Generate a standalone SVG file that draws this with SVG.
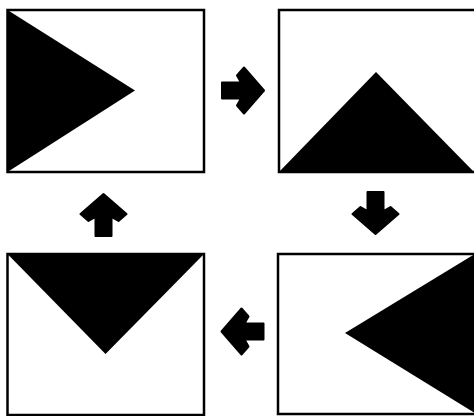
<svg xmlns="http://www.w3.org/2000/svg" xmlns:xlink="http://www.w3.org/1999/xlink" width="474" height="416" viewBox="0 0 474 416">
<style>
.frame{fill:#fff;stroke:#000;stroke-width:2.5}
.tri{fill:#000}
.arr{fill:#000;stroke:#000;stroke-width:2;stroke-linejoin:round}
</style>
<defs>
<path id="arrow" d="M-21,-8 L-2,-8 L-6,-15 L1,-23 L21,0 L1,23 L-6,15 L-2,8 L-21,8 Z"/>
</defs>
<rect x="0" y="0" width="474" height="416" fill="#fff"/>
<g id="node1">
<rect class="frame" x="7.5" y="10" width="196.5" height="162"/>
<polygon class="tri" points="7.5,10 7.5,172 135,90.5"/>
</g>
<g id="node2">
<rect class="frame" x="279" y="10" width="197" height="162"/>
<polygon class="tri" points="279,172 376,72 474,172"/>
</g>
<g id="node3">
<rect class="frame" x="7.5" y="254" width="196.5" height="161"/>
<polygon class="tri" points="7.5,254 204,254 105.5,354"/>
</g>
<g id="node4">
<rect class="frame" x="278" y="254" width="198" height="160"/>
<polygon class="tri" points="475,254 345,333 475,413"/>
</g>
<g id="connectors">
<use class="arr" xlink:href="#arrow" href="#arrow" transform="translate(243,90.5)"/>
<use class="arr" xlink:href="#arrow" href="#arrow" transform="translate(375.5,213) rotate(90)"/>
<use class="arr" xlink:href="#arrow" href="#arrow" transform="translate(242.5,331.5) rotate(180)"/>
<use class="arr" xlink:href="#arrow" href="#arrow" transform="translate(103.5,215) rotate(-90)"/>
</g>
</svg>
